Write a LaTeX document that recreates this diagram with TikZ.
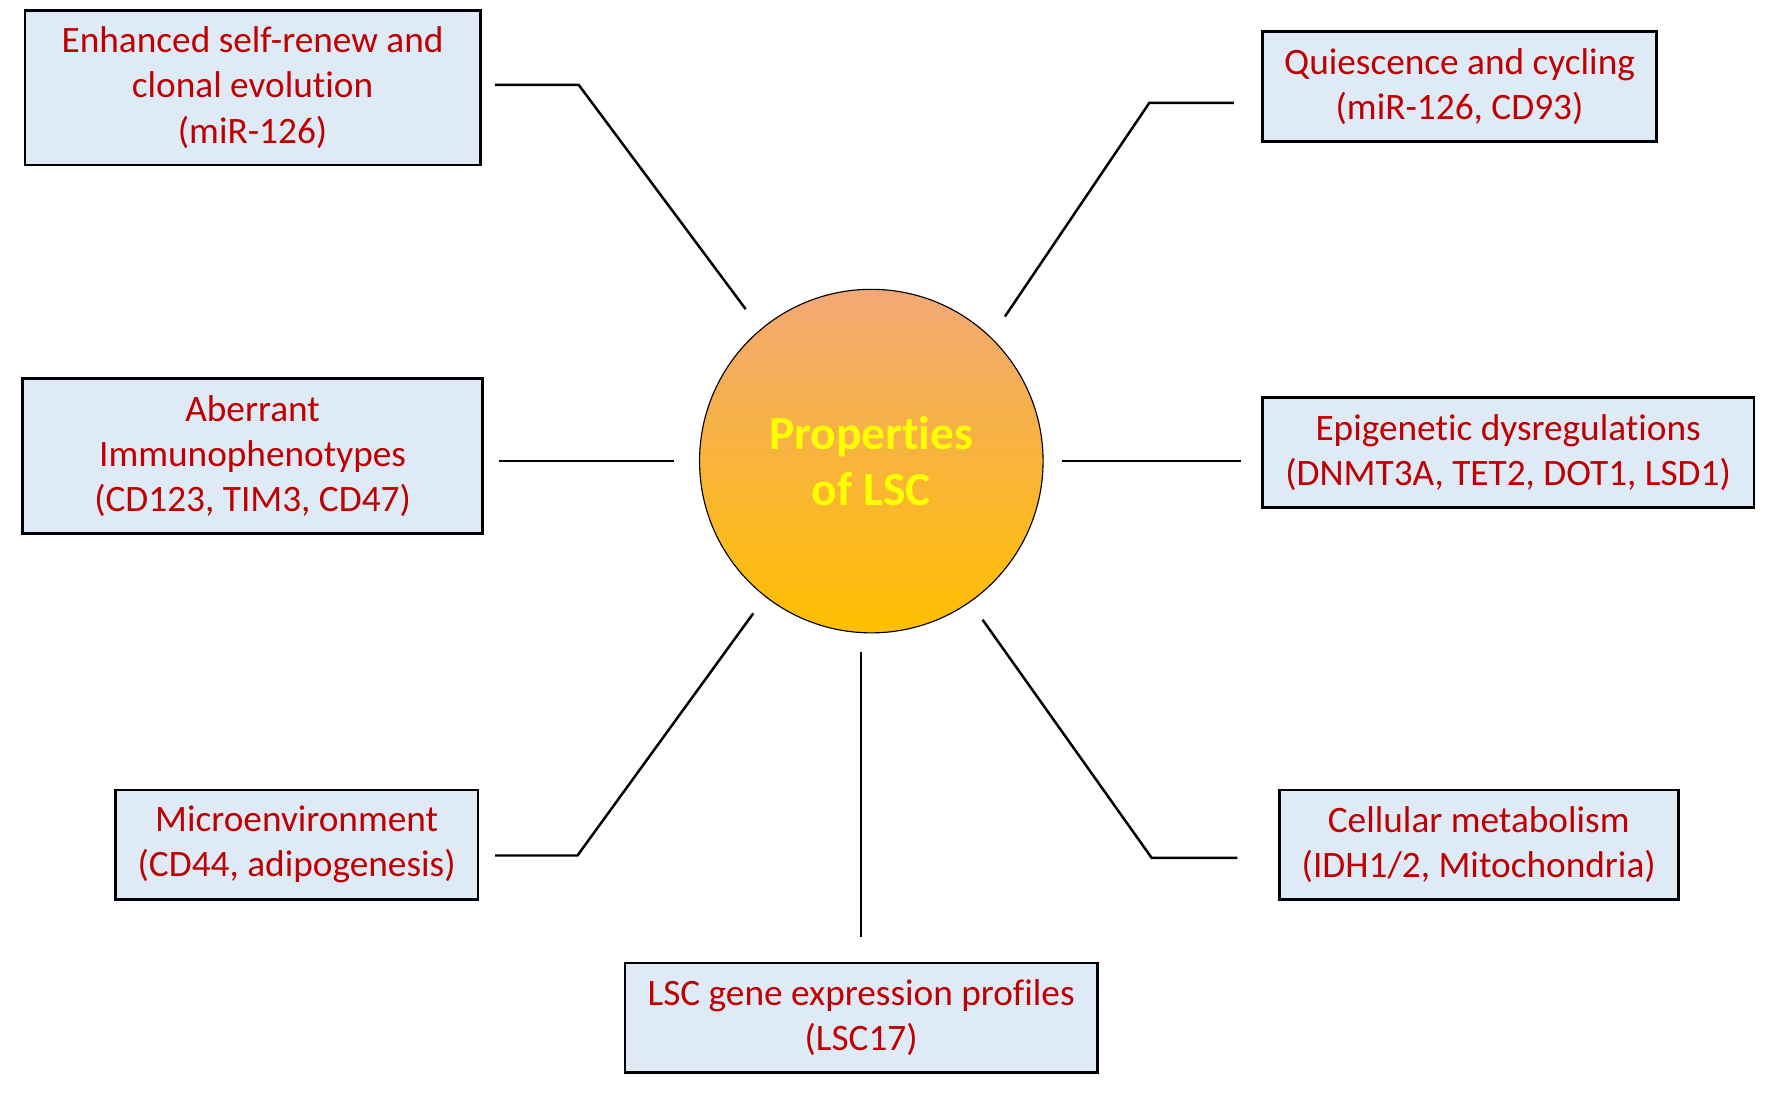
\documentclass[tikz,border=0pt]{standalone}
\usepackage{fontspec}
\setmainfont[Ligatures=NoCommon]{Carlito}
\usetikzlibrary{calc}
\definecolor{cbox}{HTML}{DEEBF7}
\definecolor{cred}{HTML}{C00000}
\definecolor{ctop}{HTML}{F2A876}
\definecolor{cmid}{HTML}{E8742A}
\definecolor{cbot}{HTML}{FFC000}
\definecolor{cyel}{HTML}{FFFF00}

\begin{document}
\begin{tikzpicture}[x=1pt, y=-1pt,
    prop/.style={draw, line width=2.4pt, fill=cbox, text=cred, align=center, inner sep=0pt,
      font=\fontsize{33}{40}\selectfont},
    link/.style={line width=2.2pt}]
      \useasboundingbox (0,0) rectangle (1568,970);
      % centre
      \node[circle, draw, line width=1pt, minimum size=304pt, inner sep=0pt,
        top color=ctop, middle color=cmid, bottom color=cbot,
        text=cyel, align=center, font=\fontsize{42}{50}\selectfont\bfseries] (lsc) at (771,408) {Properties\\of LSC};
      % properties
      \node[prop, minimum width=403pt, minimum height=137pt] (enh) at (223.5,77.5) {Enhanced self-renew and\\clonal evolution\\(miR-126)};
      \node[prop, minimum width=349pt, minimum height=97pt] (qui) at (1291.5,76.5) {Quiescence and cycling\\(miR-126, CD93)};
      \node[prop, minimum width=407pt, minimum height=137pt] (aber) at (223.5,403.5) {Aberrant\\Immunophenotypes\\(CD123, TIM3, CD47)};
      \node[prop, minimum width=435pt, minimum height=97pt] (epi) at (1334.5,400.5) {Epigenetic dysregulations\\(DNMT3A, TET2, DOT1, LSD1)};
      \node[prop, minimum width=321pt, minimum height=97pt] (micro) at (262.5,747.5) {Microenvironment\\(CD44, adipogenesis)};
      \node[prop, minimum width=353pt, minimum height=97pt] (cell) at (1308.5,747.5) {Cellular metabolism\\(IDH1/2, Mitochondria)};
      \node[prop, minimum width=418pt, minimum height=97pt] (gene) at (762,900.5) {LSC gene expression profiles\\(LSC17)};
      % bends
      \coordinate (b1) at (512,75);
      \coordinate (b2) at (1017,91);
      \coordinate (b5) at (511,757);
      \coordinate (b7) at (1019,759);
      % connectors
      \draw[link, shorten <=12pt, shorten >=22pt] (enh.east |- b1) -- (b1) -- (lsc.130);
      \draw[link, shorten <=24pt, shorten >=22pt] (qui.west |- b2) -- (b2) -- (lsc.46);
      \draw[link, shorten <=13pt, shorten >=22pt] (aber.east |- lsc.west) -- (lsc.west);
      \draw[link, shorten <=16pt, shorten >=18pt] (lsc.east) -- (epi.west |- lsc.east);
      \draw[link, shorten <=14pt, shorten >=18pt] (micro.east |- b5) -- (b5) -- (lsc.232);
      \draw[link, shorten <=36pt, shorten >=19pt] (cell.west |- b7) -- (b7) -- (lsc.305);
      \draw[link, shorten <=16pt, shorten >=22pt] (gene.north |- lsc.south) -- (gene.north);
    \end{tikzpicture}
\end{document}
